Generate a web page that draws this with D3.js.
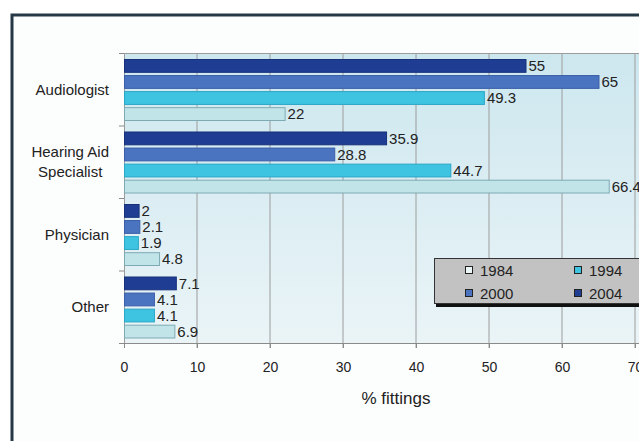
<!DOCTYPE html>
<html>
<head>
<meta charset="utf-8">
<script src="https://cdn.jsdelivr.net/npm/d3@7"></script>
<style>
  html, body { margin: 0; padding: 0; background: #ffffff; }
  svg { display: block; font-family: "Liberation Sans", Arial, sans-serif; }
</style>
</head>
<body>
<svg id="chart" width="639" height="441"></svg>
<script>
// Who fits hearing aids: share of fittings by professional type, four survey years
const categories = ["Audiologist", "Hearing Aid Specialist", "Physician", "Other"];
const categoryLines = [["Audiologist"], ["Hearing Aid", "Specialist"], ["Physician"], ["Other"]];
const years = ["2004", "2000", "1994", "1984"];
const values2004 = [55, 35.9, 2, 7.1];
const values2000 = [65, 28.8, 2.1, 4.1];
const values1994 = [49.3, 44.7, 1.9, 4.1];
const values1984 = [22, 66.4, 4.8, 6.9];
const xTicks = [0, 10, 20, 30, 40, 50, 60, 70];
const legendOrder = ["1984", "1994", "2000", "2004"];
const axisTitle = "% fittings";

const seriesByYear = { "2004": values2004, "2000": values2000, "1994": values1994, "1984": values1984 };
const fillByYear = { "2004": "#1f3e93", "2000": "#4a73c0", "1994": "#3ec3e1", "1984": "#c1e4e9" };
const strokeByYear = { "2004": "#17307a", "2000": "#3a5ea8", "1994": "#2ba6c6", "1984": "#7eaab4" };

const svg = d3.select("#chart");

// outer frame
svg.append("rect")
  .attr("x", 12).attr("y", 15).attr("width", 700).attr("height", 500)
  .attr("fill", "#fcfdfd").attr("stroke", "#253845").attr("stroke-width", 3);

const plot = { left: 124, top: 53, bottom: 343, right: 700 };

const x = d3.scaleLinear().domain([0, 70]).range([124, 635]);
const y = d3.scaleBand().domain(categories).range([plot.top, plot.bottom]).paddingInner(0).paddingOuter(0);
const yInner = d3.scaleBand().domain(years).range([6, 68]).paddingInner(0.14).paddingOuter(0);

// plot background
const defs = svg.append("defs");
const grad = defs.append("linearGradient").attr("id", "plotBg")
  .attr("x1", 0).attr("y1", 0).attr("x2", 0).attr("y2", 1);
grad.append("stop").attr("offset", "0%").attr("stop-color", "#cde7ef");
grad.append("stop").attr("offset", "100%").attr("stop-color", "#eaf4f7");
svg.append("rect")
  .attr("x", plot.left).attr("y", plot.top)
  .attr("width", plot.right - plot.left).attr("height", plot.bottom - plot.top)
  .attr("fill", "url(#plotBg)");

// vertical gridlines
svg.append("g").selectAll("line").data(xTicks.slice(1)).join("line")
  .attr("x1", d => x(d)).attr("x2", d => x(d))
  .attr("y1", plot.top).attr("y2", plot.bottom + 5)
  .attr("stroke", "#9c9c9c").attr("stroke-width", 1);

// top border of the plot
svg.append("line")
  .attr("x1", plot.left).attr("x2", plot.right)
  .attr("y1", plot.top + 0.5).attr("y2", plot.top + 0.5)
  .attr("stroke", "#9c9c9c");

// bottom axis
const xAxis = svg.append("g")
  .attr("transform", `translate(0,${plot.bottom})`)
  .call(d3.axisBottom(x).tickValues(xTicks).tickSize(5).tickPadding(14));
xAxis.select(".domain").attr("stroke", "#8a8a8a").attr("d", `M${plot.left},0.5H${plot.right}`);
xAxis.selectAll(".tick line").attr("stroke", "#8a8a8a");
xAxis.selectAll(".tick text")
  .attr("fill", "#222").attr("font-size", 14)
  .attr("font-family", "'Liberation Sans', Arial, sans-serif");

// left axis with category separators
const yTicks = [plot.top].concat(categories.map(c => y(c) + y.bandwidth()));
svg.append("line")
  .attr("x1", plot.left + 0.5).attr("x2", plot.left + 0.5)
  .attr("y1", plot.top).attr("y2", plot.bottom)
  .attr("stroke", "#9c9c9c");
svg.append("g").selectAll("line").data(yTicks).join("line")
  .attr("x1", plot.left - 5).attr("x2", plot.left)
  .attr("y1", d => d + 0.5).attr("y2", d => d + 0.5)
  .attr("stroke", "#8a8a8a");

// bars
const rows = [];
categories.forEach((c, i) => {
  years.forEach(yr => rows.push({ category: c, year: yr, value: seriesByYear[yr][i] }));
});

svg.append("g").selectAll("rect").data(rows).join("rect")
  .attr("x", x(0) + 0.5)
  .attr("y", d => y(d.category) + yInner(d.year) + 0.5)
  .attr("width", d => x(d.value) - x(0))
  .attr("height", yInner.bandwidth() - 1)
  .attr("fill", d => fillByYear[d.year])
  .attr("stroke", d => strokeByYear[d.year])
  .attr("stroke-width", 1);

// value labels
svg.append("g").selectAll("text").data(rows).join("text")
  .attr("x", d => x(d.value) + 3)
  .attr("y", d => y(d.category) + yInner(d.year) + yInner.bandwidth() / 2)
  .attr("dy", "0.36em")
  .attr("font-size", 15)
  .attr("fill", "#222")
  .text(d => d.value);

// category labels
const labelRight = 109;
categories.forEach((c, i) => {
  const lines = categoryLines[i];
  const cy = y(c) + y.bandwidth() / 2;
  const g = svg.append("g");
  const texts = lines.map((ln, k) => g.append("text")
    .attr("y", cy + (k - (lines.length - 1) / 2) * 20)
    .attr("dy", "0.36em")
    .attr("font-size", 15)
    .attr("fill", "#222")
    .attr("text-anchor", "middle")
    .text(ln));
  const maxW = d3.max(texts, t => t.node().getComputedTextLength());
  texts.forEach(t => t.attr("x", labelRight - maxW / 2));
});

// axis title
svg.append("text")
  .attr("x", 396).attr("y", 404)
  .attr("text-anchor", "middle")
  .attr("font-size", 17)
  .attr("fill", "#222")
  .text(axisTitle);

// legend
const legend = svg.append("g");
legend.append("rect")
  .attr("x", 436).attr("y", 262).attr("width", 260).attr("height", 45)
  .attr("fill", "#111");
legend.append("rect")
  .attr("x", 434.5).attr("y", 258.5).attr("width", 260).attr("height", 45)
  .attr("fill", "#c2c2c2").attr("stroke", "#333").attr("stroke-width", 1);

const legendCols = [465, 574];
const legendRows = [266, 289];
legend.selectAll("g.item").data(legendOrder).join("g")
  .attr("class", "item")
  .attr("transform", (d, i) => `translate(${legendCols[i % 2]},${legendRows[Math.floor(i / 2)]})`)
  .each(function (d) {
    const g = d3.select(this);
    g.append("rect")
      .attr("x", 0.5).attr("y", 0.5).attr("width", 7).attr("height", 7)
      .attr("fill", d === "1984" ? "#eef7f8" : fillByYear[d])
      .attr("stroke", "#222").attr("stroke-width", 1);
    g.append("text")
      .attr("x", 15).attr("y", 10)
      .attr("font-size", 15)
      .attr("fill", "#222")
      .text(d);
  });
</script>
</body>
</html>
